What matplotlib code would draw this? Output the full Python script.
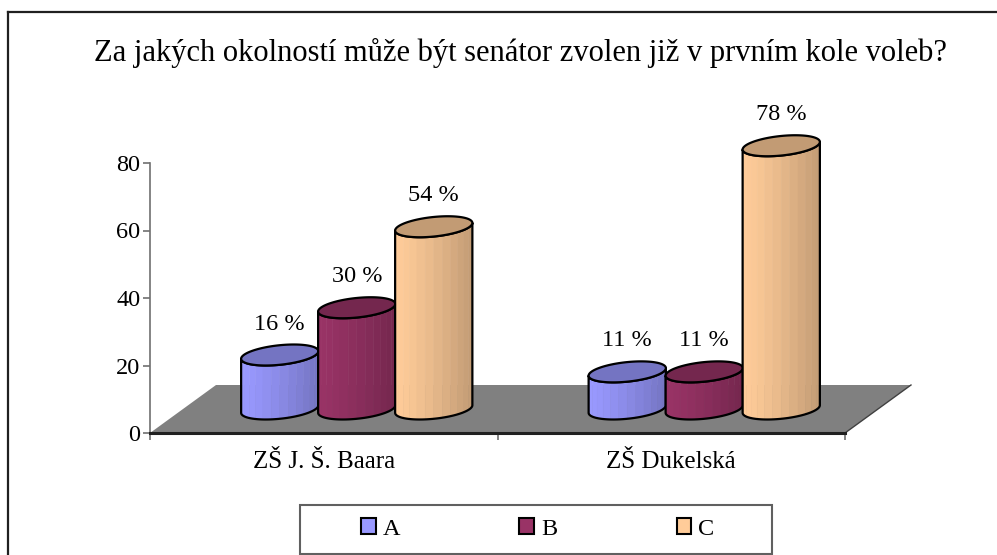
import numpy as np
import matplotlib
matplotlib.use('Agg')
import matplotlib.pyplot as plt
from matplotlib.patches import Polygon, Patch, Rectangle
from matplotlib.lines import Line2D

plt.rcParams['font.family'] = ['Liberation Serif', 'DejaVu Serif']

title = 'Za jakých okolností může být senátor zvolen již v prvním kole voleb?'
schools = ['ZŠ J. Š. Baara', 'ZŠ Dukelská']
answers = ['A', 'B', 'C']
values = {
    'A': [16, 11],
    'B': [30, 11],
    'C': [54, 78],
}
colors = {'A': '#9999FF', 'B': '#993366', 'C': '#FFCC99'}
yticks = [0, 20, 40, 60, 80]

###############################################################################
# Figure and axes
###############################################################################
W, H = 997, 555
fig = plt.figure(figsize=(W / 100, H / 100), dpi=100)
ax = fig.add_axes([150 / W, 122 / H, 695 / W, 270 / H])
ax.set_xlim(0, len(schools))
ax.set_ylim(0, 80)
ax.patch.set_visible(False)
for s in ('top', 'right'):
    ax.spines[s].set_visible(False)
ax.spines['left'].set_color('#707070')
ax.spines['left'].set_linewidth(1.2)
ax.spines['bottom'].set_color('#202020')
ax.spines['bottom'].set_linewidth(2.2)
ax.set_yticks(yticks)
ax.tick_params(axis='y', length=5, width=1.2, color='#707070', pad=2, labelsize=17.5)
ax.set_xticks([i + 0.5 for i in range(len(schools))])
ax.set_xticklabels(schools, fontsize=18)
ax.tick_params(axis='x', which='major', length=0, pad=13)
ax.set_xticks(range(len(schools) + 1), minor=True)
ax.tick_params(axis='x', which='minor', length=5, width=1.2, color='#707070')

# pixel -> data scale
kx = (ax.get_xlim()[1] - ax.get_xlim()[0]) / 695
ky = (ax.get_ylim()[1] - ax.get_ylim()[0]) / 270

# Floor -----------------------------------------------------------------------
fdx, fdy = 66 * kx, 48 * ky
floor = Polygon(
    [(0, 0), (len(schools), 0), (len(schools) + fdx, fdy), (fdx, fdy)],
    closed=True, facecolor='#808080', edgecolor='none', zorder=1, clip_on=False)
ax.add_patch(floor)
ax.plot([len(schools), len(schools) + fdx], [0, fdy], color='#404040', lw=1,
        zorder=1.5, clip_on=False)

###############################################################################
# Cylinders
###############################################################################
R, S, Hh = 36.0, 14.0, 10.5      # radius, skew, half-height of top ellipse (px)
midx, midy = 33 * kx, 24 * ky    # bars stand in the middle of the floor depth
barw = 77 * kx
a0 = np.arctan(S / R)


def shade(c, f):
    rgb = np.array(matplotlib.colors.to_rgb(c))
    return tuple(rgb * f)


def ellipse(cx, cy, t):
    return cx + (R * np.cos(t) + S * np.sin(t)) * kx, cy + Hh * np.sin(t) * ky


def cylinder(cx, value, color):
    yb = midy
    yt = midy + value
    tt = np.linspace(np.pi + a0, 2 * np.pi + a0, 15)
    xl = ellipse(cx, 0, tt[0])[0]
    xr = ellipse(cx, 0, tt[-1])[0]
    for k in range(len(tt) - 1):
        ts = np.linspace(tt[k], tt[k + 1], 6)
        bx, by = ellipse(cx, yb, ts)
        ux, uy = ellipse(cx, yt, ts[::-1])
        xm = (bx.mean() - xl) / (xr - xl)
        fc = shade(color, 1 - 0.24 * xm ** 1.3)
        ax.add_patch(Polygon(np.column_stack([np.r_[bx, ux], np.r_[by, uy]]),
                             closed=True, facecolor=fc, edgecolor=fc, lw=0.4,
                             zorder=3, clip_on=False))
    ts = np.linspace(np.pi + a0, 2 * np.pi + a0, 80)
    bx, by = ellipse(cx, yb, ts)
    ux, uy = ellipse(cx, yt, ts[::-1])
    ax.add_patch(Polygon(np.column_stack([np.r_[bx, ux], np.r_[by, uy]]),
                         closed=True, facecolor='none', edgecolor='black',
                         lw=1.6, joinstyle='round', zorder=3, clip_on=False))
    ta = np.linspace(0, 2 * np.pi, 120)
    ex, ey = ellipse(cx, yt, ta)
    ax.add_patch(Polygon(np.column_stack([ex, ey]), closed=True,
                         facecolor=shade(color, 0.76), edgecolor='black',
                         lw=1.6, zorder=3, clip_on=False))


for g in range(len(schools)):
    for j, ans in enumerate(answers):
        cx = g + 0.5 + midx + (j - 1) * barw
        v = values[ans][g]
        cylinder(cx, v, colors[ans])
        ax.text(cx, midy + v + 31 * ky, f'{v} %', ha='center', va='center',
                fontsize=17.5, zorder=5)

###############################################################################
# Title, legend, frame
###############################################################################
fig.text(520 / W, 1 - 53 / H, title, ha='center', va='center', fontsize=22)

handles = [Patch(facecolor=colors[a], edgecolor='black', lw=1.5) for a in answers]
fig.legend(handles, answers, loc='center left', ncol=3,
           bbox_to_anchor=(361 / W, 1 - 529 / H), frameon=False, fontsize=17.5,
           handlelength=0.6, handleheight=0.6, handletextpad=0.3,
           columnspacing=4.9, borderpad=0, borderaxespad=0)
fig.add_artist(Rectangle((300 / W, 1 - 554 / H), 472 / W, 49 / H,
                         transform=fig.transFigure, facecolor='none',
                         edgecolor='#606060', lw=1.5))

fig.add_artist(Line2D([8 / W, 8 / W], [0, 1 - 12 / H], transform=fig.transFigure,
                      color='#202020', lw=1.6))
fig.add_artist(Line2D([8 / W, 1], [1 - 12 / H, 1 - 12 / H], transform=fig.transFigure,
                      color='#202020', lw=1.6))

plt.savefig('out.png', dpi=100)
